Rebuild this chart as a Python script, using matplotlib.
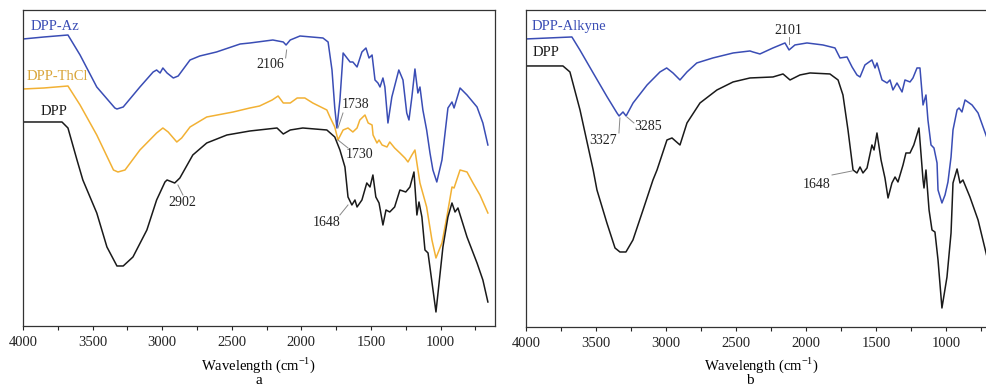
import matplotlib
matplotlib.use("Agg")
import matplotlib.pyplot as plt
from matplotlib.ticker import MultipleLocator

plt.rcParams['font.family'] = ['Liberation Serif', 'DejaVu Serif']
plt.rcParams['mathtext.fontset'] = 'custom'
plt.rcParams['mathtext.rm'] = 'Liberation Serif'

BLUE = '#3a4db5'
ORANGE = '#f2b134'
BLACK = '#1a1a1a'

# ---- panel a : FTIR spectra (wavenumber cm-1, transmittance a.u.) ----
az_wn = [4000, 3850, 3677, 3590, 3470, 3340, 3325, 3280, 3160, 3065, 3040, 3015,
         2995, 2965, 2920, 2885, 2800, 2730, 2610, 2440, 2370, 2205, 2130, 2110,
         2080, 2010, 1845, 1808, 1780, 1760, 1745, 1723, 1700, 1650, 1630, 1600,
         1565, 1536, 1514, 1492, 1471, 1450, 1435, 1414, 1400, 1378, 1350, 1300,
         1270, 1243, 1227, 1206, 1184, 1163, 1148, 1127, 1100, 1076, 1055, 1027,
         990, 947, 918, 903, 860, 810, 738, 696, 660]
az_t = [291, 293, 295, 275, 243, 222, 221, 223, 243, 258, 260, 257,
        262, 257, 252, 254, 270, 274, 278, 286, 287, 290, 288, 285,
        290, 294, 292, 288, 260, 222, 202, 230, 277, 268, 268, 263,
        278, 282, 272, 275, 250, 247, 243, 252, 243, 207, 233, 260,
        250, 217, 210, 233, 261, 237, 243, 220, 200, 177, 160, 148,
        170, 222, 228, 222, 242, 235, 223, 207, 185]

thcl_wn = [4000, 3850, 3677, 3590, 3470, 3350, 3318, 3267, 3160, 3040, 2995, 2957,
           2895, 2860, 2800, 2680, 2490, 2370, 2300, 2210, 2167, 2130, 2080, 2030,
           1975, 1918, 1817, 1795, 1760, 1737, 1700, 1665, 1630, 1600, 1580, 1543,
           1520, 1492, 1485, 1457, 1442, 1420, 1385, 1365, 1330, 1292, 1256, 1234,
           1206, 1184, 1170, 1148, 1100, 1062, 1033, 990, 955, 918, 903, 860, 810,
           767, 717, 660]
thcl_t = [241, 242, 244, 225, 195, 160, 158, 160, 180, 197, 202, 198,
          188, 192, 203, 213, 218, 222, 224, 230, 234, 227, 227, 232,
          232, 227, 220, 213, 203, 190, 200, 202, 198, 202, 210, 215,
          207, 205, 195, 187, 190, 185, 183, 188, 182, 177, 172, 168,
          175, 180, 167, 147, 123, 90, 72, 87, 113, 143, 142, 160, 158,
          147, 135, 117]

dppa_wn = [4000, 3720, 3677, 3612, 3570, 3470, 3397, 3325, 3280, 3210, 3110, 3040,
           2980, 2965, 2910, 2873, 2780, 2680, 2535, 2370, 2175, 2130, 2080, 1990,
           1817, 1760, 1723, 1687, 1665, 1637, 1615, 1600, 1565, 1530, 1507, 1486,
           1465, 1442, 1414, 1392, 1365, 1330, 1292, 1250, 1220, 1191, 1170, 1155,
           1134, 1112, 1090, 1033, 983, 947, 918, 896, 875, 810, 738, 696, 660]
dppa_t = [208, 208, 202, 170, 150, 117, 83, 64, 64, 73, 100, 130,
          148, 150, 147, 152, 175, 187, 195, 199, 202, 196, 200, 202,
          200, 193, 180, 163, 133, 125, 130, 123, 130, 147, 143, 155,
          133, 127, 105, 120, 118, 123, 140, 138, 143, 158, 115, 128,
          113, 80, 77, 18, 83, 113, 127, 118, 122, 93, 67, 50, 28]

# ---- panel b ----
alk_wn = [4000, 3672, 3615, 3520, 3420, 3350, 3335, 3307, 3285, 3235, 3135, 3043,
          2995, 2950, 2900, 2850, 2780, 2665, 2520, 2400, 2379, 2329, 2236, 2150,
          2121, 2079, 1993, 1879, 1793, 1757, 1707, 1671, 1636, 1614, 1579, 1529,
          1507, 1493, 1457, 1421, 1400, 1379, 1350, 1314, 1293, 1257, 1236, 1207,
          1186, 1164, 1143, 1129, 1107, 1086, 1064, 1057, 1029, 1007, 986, 964,
          950, 921, 907, 886, 864, 814, 771, 707]
alk_t = [291, 293, 280, 257, 233, 217, 214, 218, 214, 227, 245, 258,
         262, 257, 250, 258, 267, 272, 277, 279, 278, 276, 282, 287,
         280, 285, 287, 285, 282, 272, 273, 263, 255, 253, 265, 270,
         262, 267, 250, 247, 250, 240, 247, 238, 250, 248, 252, 262,
         262, 225, 235, 210, 185, 182, 167, 140, 127, 135, 148, 173,
         200, 220, 222, 218, 230, 225, 217, 192]

dppb_wn = [4000, 3736, 3686, 3614, 3520, 3493, 3422, 3364, 3329, 3286, 3236, 3164,
           3093, 3064, 2993, 2957, 2900, 2850, 2757, 2636, 2521, 2400, 2236, 2164,
           2114, 2043, 1971, 1829, 1771, 1736, 1700, 1664, 1636, 1614, 1593, 1564,
           1529, 1514, 1493, 1464, 1436, 1414, 1386, 1364, 1343, 1307, 1286, 1257,
           1230, 1193, 1164, 1157, 1143, 1121, 1100, 1079, 1057, 1029, 993, 964,
           950, 921, 900, 879, 829, 771, 707]
dppb_t = [264, 264, 258, 220, 160, 140, 107, 82, 78, 78, 90, 120,
          150, 160, 190, 192, 185, 207, 227, 240, 248, 252, 253, 256,
          250, 255, 257, 256, 250, 235, 200, 160, 157, 163, 157, 162,
          185, 180, 197, 170, 152, 132, 147, 153, 148, 165, 177, 177,
          185, 202, 150, 142, 160, 120, 100, 98, 70, 22, 53, 97,
          147, 161, 147, 150, 133, 110, 73]

# labels: (text, x, y, color)
labels_a = [('DPP-Az', 3943, 303, BLUE), ('DPP-ThCl', 3971, 253, '#d9a53a'),
            ('DPP', 3871, 218, BLACK)]
labels_b = [('DPP-Alkyne', 3957, 303, BLUE), ('DPP', 3950, 277, BLACK)]

# peak marks: (text, text x, text y, leader from, leader to)
peaks_a = [('2106', 2226, 265, (2106, 280), (2113, 272)),
           ('1738', 1611, 225, (1737, 202), (1701, 217)),
           ('1730', 1579, 175, (1737, 190), (1665, 182)),
           ('2902', 2854, 127, (2887, 145), (2851, 135)),
           ('1648', 1820, 107, (1723, 115), (1665, 125))]
peaks_b = [('2101', 2125, 299, (2121, 293), (2121, 286)),
           ('3327', 3446, 189, (3329, 212), (3336, 197)),
           ('3285', 3125, 203, (3279, 213), (3229, 207)),
           ('1648', 1921, 145, (1814, 155), (1671, 159))]

fig = plt.figure(figsize=(9.87, 3.89), dpi=100)
ax1 = fig.add_axes([0.0233, 0.162, 0.4782, 0.8123])
ax2 = fig.add_axes([0.5329, 0.1594, 0.4823, 0.815])


def style(ax, right_edge):
    ax.set_xlim(4000, right_edge)
    ax.set_ylim(4, 320)
    ax.set_yticks([])
    ax.xaxis.set_major_locator(MultipleLocator(500))
    ax.xaxis.set_minor_locator(MultipleLocator(250))
    ax.tick_params(axis='x', which='both', direction='out', length=3.2,
                   width=0.8, labelsize=10.5, pad=4, colors='#222222')
    for s in ax.spines.values():
        s.set_linewidth(0.9)
        s.set_color('#333333')


ax1.plot(az_wn, az_t, color=BLUE, lw=1.1)
ax1.plot(thcl_wn, thcl_t, color=ORANGE, lw=1.1)
ax1.plot(dppa_wn, dppa_t, color=BLACK, lw=1.1)
style(ax1, 609)

ax2.plot(alk_wn, alk_t, color=BLUE, lw=1.1)
ax2.plot(dppb_wn, dppb_t, color=BLACK, lw=1.1)
style(ax2, 600)
ax2.set_ylim(3, 320)

for ax, labs, peaks in [(ax1, labels_a, peaks_a), (ax2, labels_b, peaks_b)]:
    for txt, x, y, c in labs:
        ax.text(x, y, txt, color=c, fontsize=10.5, ha='left', va='center')
    for txt, x, y, p0, p1 in peaks:
        ax.text(x, y, txt, fontsize=10, ha='center', va='center', color='#222222')
        ax.plot([p0[0], p1[0]], [p0[1], p1[1]], color='#888888', lw=0.7)

fig.text(0.262, 0.062, r'Wavelength (cm$^{-1}$)', ha='center', va='center', fontsize=10.5)
fig.text(0.771, 0.062, r'Wavelength (cm$^{-1}$)', ha='center', va='center', fontsize=10.5)
fig.text(0.262, 0.022, 'a', ha='center', va='center', fontsize=11)
fig.text(0.760, 0.022, 'b', ha='center', va='center', fontsize=11)

fig.savefig('out.png', dpi=100)
